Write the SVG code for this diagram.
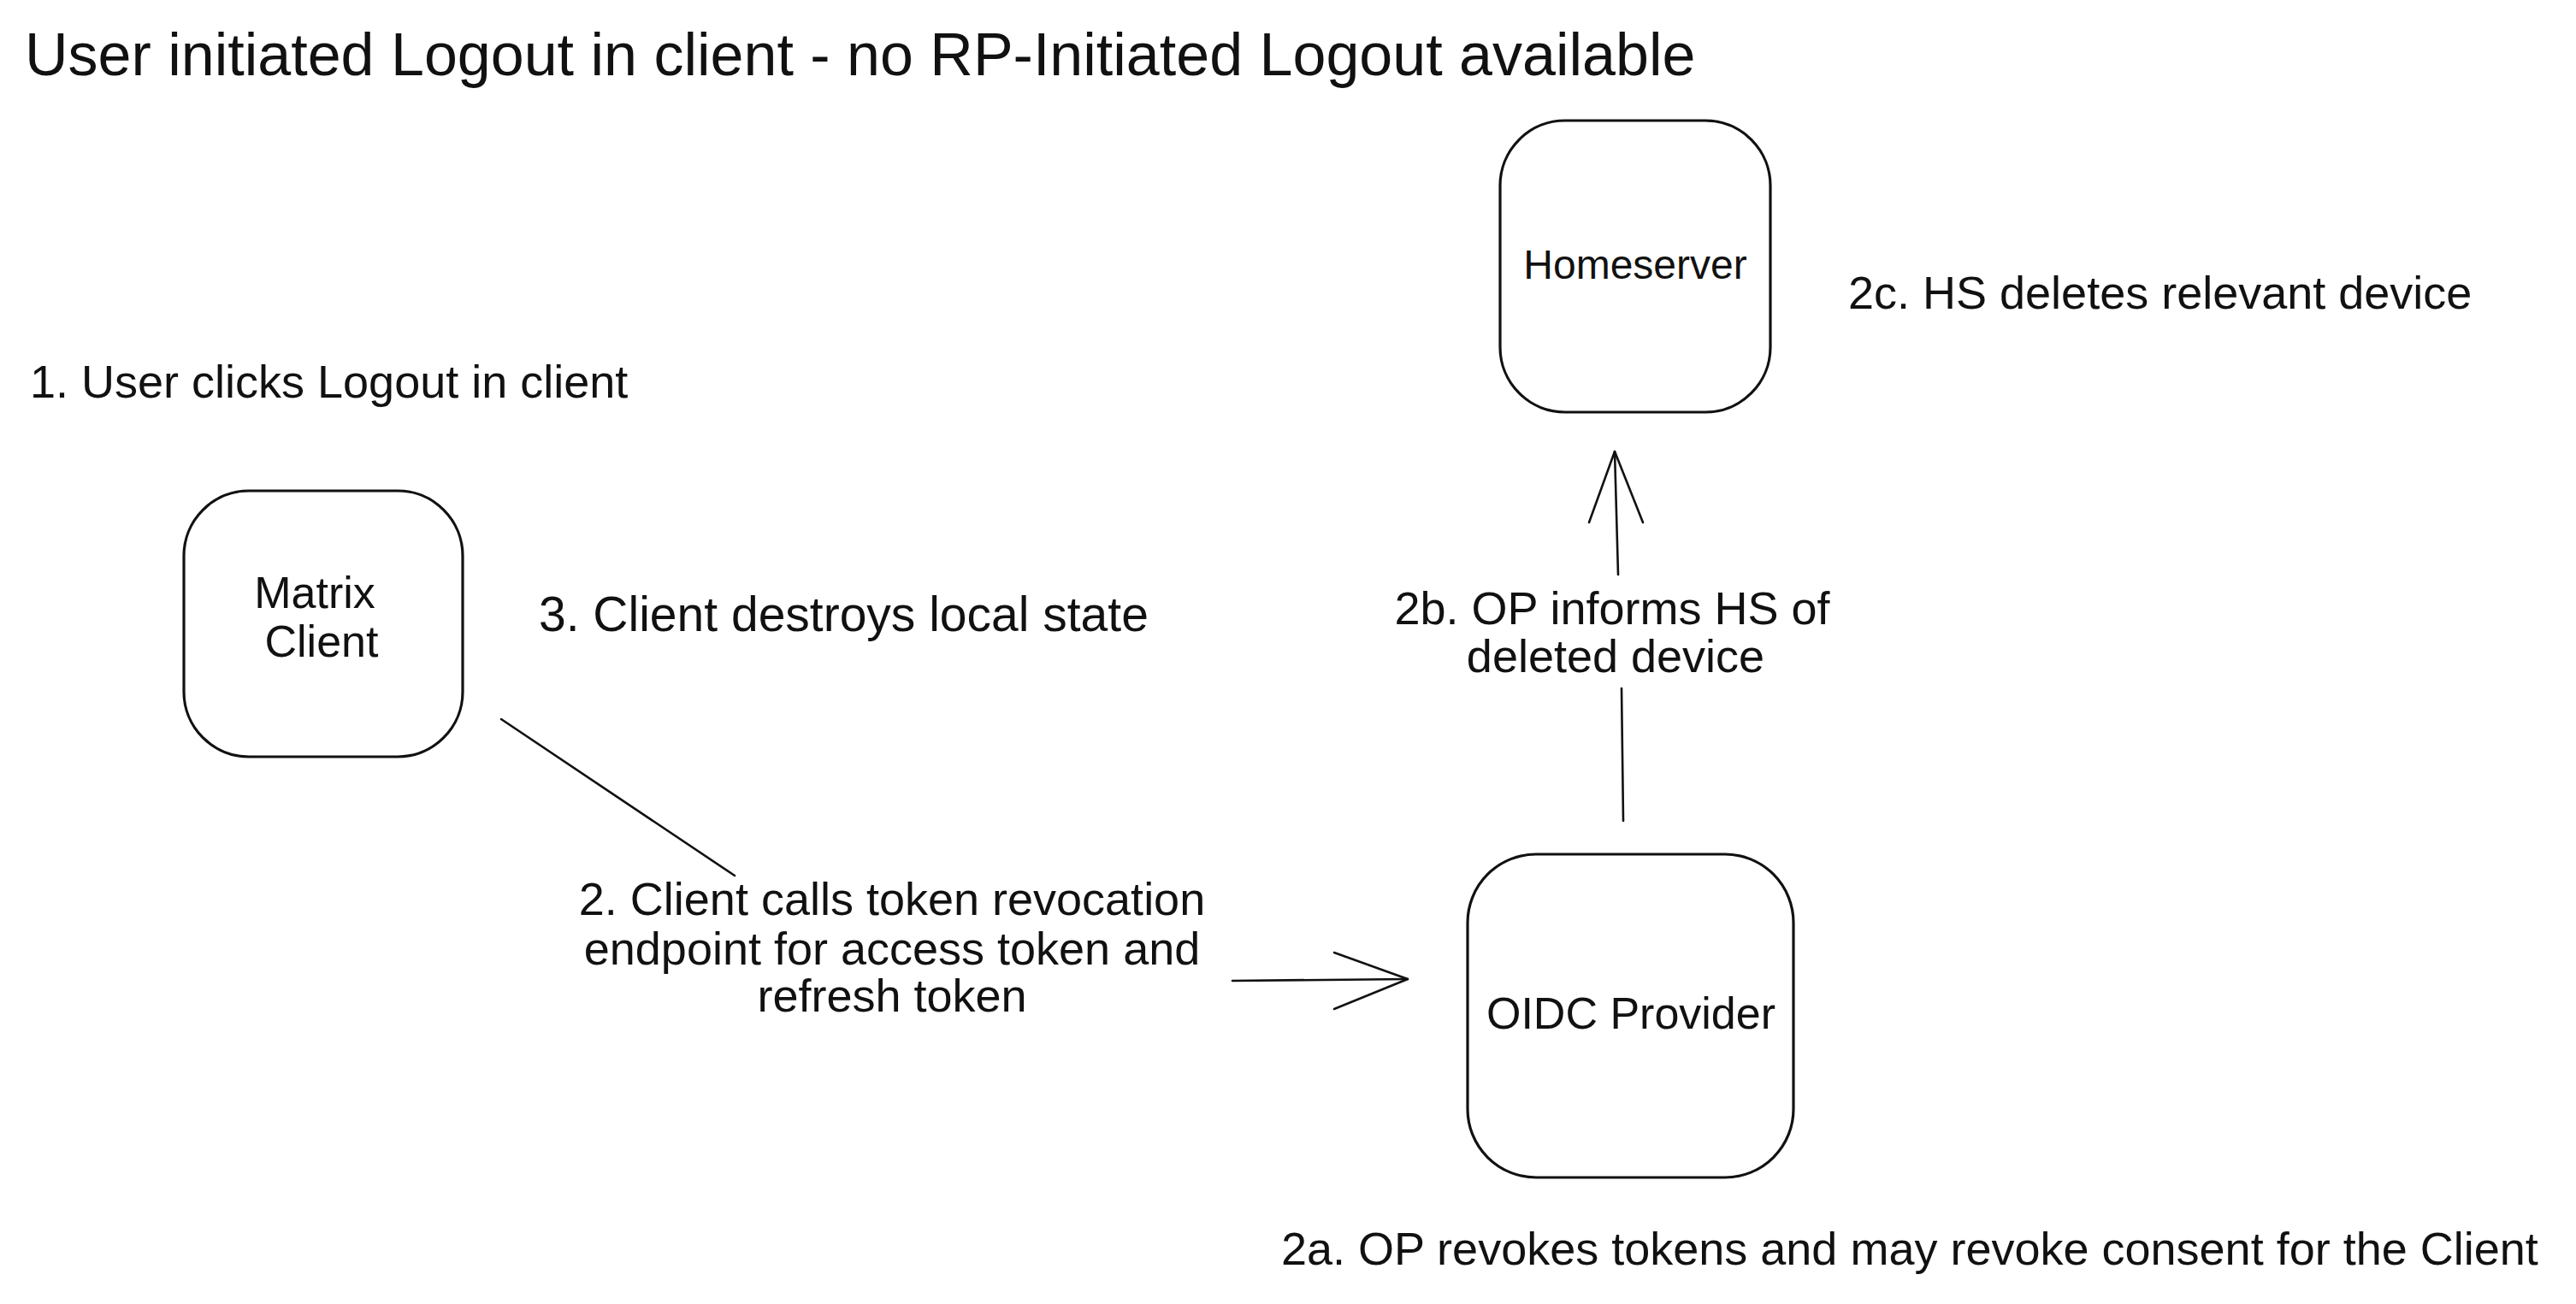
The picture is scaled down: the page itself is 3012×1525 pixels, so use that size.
<svg xmlns="http://www.w3.org/2000/svg" width="3012" height="1525" viewBox="0 0 3012 1525">
<style>
.bg{fill:#ffffff}
.box{fill:#ffffff;stroke:#111111;stroke-width:3.2}
.ln{fill:none;stroke:#111111;stroke-width:2.6;stroke-linecap:round;stroke-linejoin:round}
.t{font-family:"Liberation Sans",Arial,sans-serif;fill:#111111}
.title{font-size:70px}
.lbl{font-size:54px}
.nl{font-size:52px}
</style>
<rect class="bg" x="0" y="0" width="3012" height="1525"/>
<text class="t title" x="29" y="88">User initiated Logout in client - no RP-Initiated Logout available</text>
<text class="t lbl" x="35" y="465">1. User clicks Logout in client</text>
<text class="t lbl" x="630" y="738" style="font-size:57px">3. Client destroys local state</text>
<text class="t lbl" x="2161" y="361">2c. HS deletes relevant device</text>
<text class="t lbl" x="1498" y="1479">2a. OP revokes tokens and may revoke consent for the Client</text>
<g id="node-matrix-client">
<rect class="box" x="215" y="574" width="326" height="311" rx="76" ry="76"/>
<text class="t nl" x="368" y="711" text-anchor="middle">Matrix</text>
<text class="t nl" x="376" y="768" text-anchor="middle">Client</text>
</g>
<g id="node-homeserver">
<rect class="box" x="1754" y="141" width="316" height="341" rx="76" ry="76"/>
<text class="t nl" x="1912" y="326" text-anchor="middle" style="font-size:48px">Homeserver</text>
</g>
<g id="node-oidc-provider">
<rect class="box" x="1716" y="999" width="381" height="378" rx="80" ry="80"/>
<text class="t nl" x="1907" y="1203" text-anchor="middle">OIDC Provider</text>
</g>
<g id="connectors">
<g id="edge-client-oidc">
<path class="ln" d="M586 841 L859 1024"/>
<path class="ln" d="M1441 1147 L1646 1145"/>
<path class="ln" d="M1560 1114 L1646 1145 L1560 1180"/>
<text class="t lbl" x="1043" y="1070" text-anchor="middle">2. Client calls token revocation</text>
<text class="t lbl" x="1043" y="1128" text-anchor="middle">endpoint for access token and</text>
<text class="t lbl" x="1043" y="1183" text-anchor="middle">refresh token</text>
</g>
<g id="edge-oidc-homeserver">
<path class="ln" d="M1898 960 L1896 805"/>
<path class="ln" d="M1892 672 L1888 528"/>
<path class="ln" d="M1858 611 L1888 528 L1921 611"/>
<text class="t lbl" x="1885" y="730" text-anchor="middle">2b. OP informs HS of</text>
<text class="t lbl" x="1889" y="786" text-anchor="middle">deleted device</text>
</g>
</g>
</svg>
